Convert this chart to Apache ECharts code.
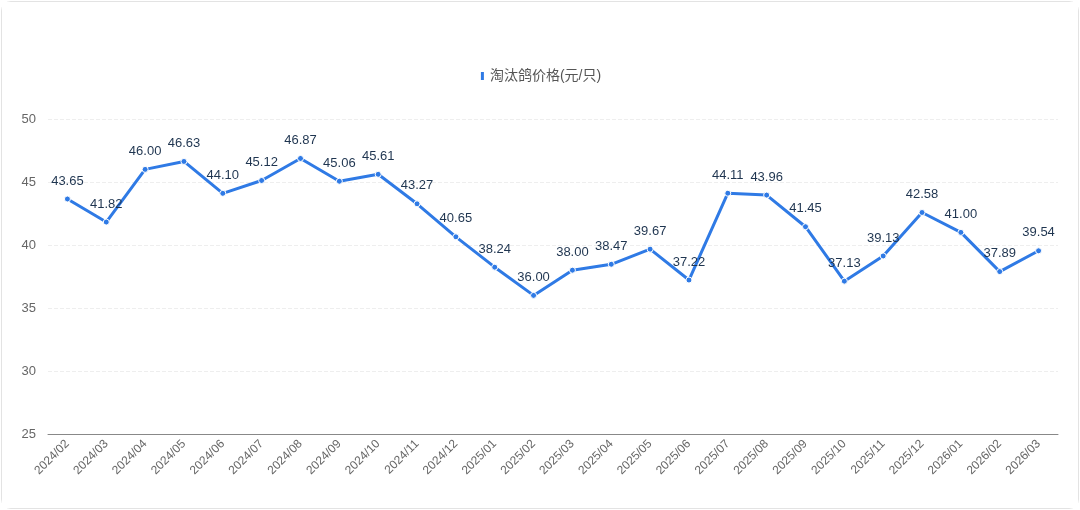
<!DOCTYPE html>
<html>
<head>
<meta charset="utf-8">
<script src="https://cdn.jsdelivr.net/npm/echarts@6/dist/echarts.min.js"></script>
<style>
html,body{margin:0;padding:0;background:#fff;}
#grafico{position:absolute;left:1px;top:1px;width:1076px;height:506px;border:1px solid #e3e3e3;border-radius:10px;}
</style>
</head>
<body>
<div id="grafico"></div>
<script>
var months = ['2024/02','2024/03','2024/04','2024/05','2024/06','2024/07','2024/08','2024/09','2024/10','2024/11','2024/12',
    '2025/01','2025/02','2025/03','2025/04','2025/05','2025/06','2025/07','2025/08','2025/09','2025/10','2025/11','2025/12',
    '2026/01','2026/02','2026/03'];
var prices = [43.65,41.82,46.00,46.63,44.10,45.12,46.87,45.06,45.61,43.27,40.65,
    38.24,36.00,38.00,38.47,39.67,37.22,44.11,43.96,41.45,37.13,39.13,42.58,
    41.00,37.89,39.54];
var seriesName = '淘汰鸽价格(元/只)';

var dom = document.getElementById("grafico");
var myChart = echarts.init(dom);
var option = {
    backgroundColor: '#fff',
    textStyle: { fontFamily: 'Liberation Sans, Noto Sans CJK SC, sans-serif' },
    legend: {
        top: 62,
        left: 'center',
        itemWidth: 5,
        itemHeight: 10,
        icon: 'rect',
        textStyle: { color: '#555', fontSize: 14 },
        data: [seriesName]
    },
    grid: { left: 46, right: 20, top: 117, bottom: 74 },
    xAxis: {
        type: 'category',
        data: months,
        boundaryGap: true,
        axisLine: { lineStyle: { color: '#888' } },
        axisTick: { show: false },
        axisLabel: { rotate: 45, color: '#666', fontSize: 12, interval: 0, margin: 8 }
    },
    yAxis: {
        type: 'value',
        min: 25, max: 50, interval: 5,
        axisLine: { show: false },
        axisTick: { show: false },
        axisLabel: { color: '#666', fontSize: 13, margin: 12 },
        splitLine: { lineStyle: { color: '#eee', type: 'dashed' } }
    },
    series: [{
        name: seriesName,
        type: 'line',
        data: prices,
        symbol: 'circle',
        symbolSize: 6,
        lineStyle: { color: '#2f7ae5', width: 3 },
        itemStyle: { color: '#2f7ae5', borderColor: '#fff', borderWidth: 1 },
        label: {
            show: true,
            position: 'top',
            distance: 8,
            color: '#1f3550',
            fontSize: 13,
            formatter: function (p) { return p.value.toFixed(2); }
        }
    }]
};
myChart.setOption(option, true);
</script>
</body>
</html>
